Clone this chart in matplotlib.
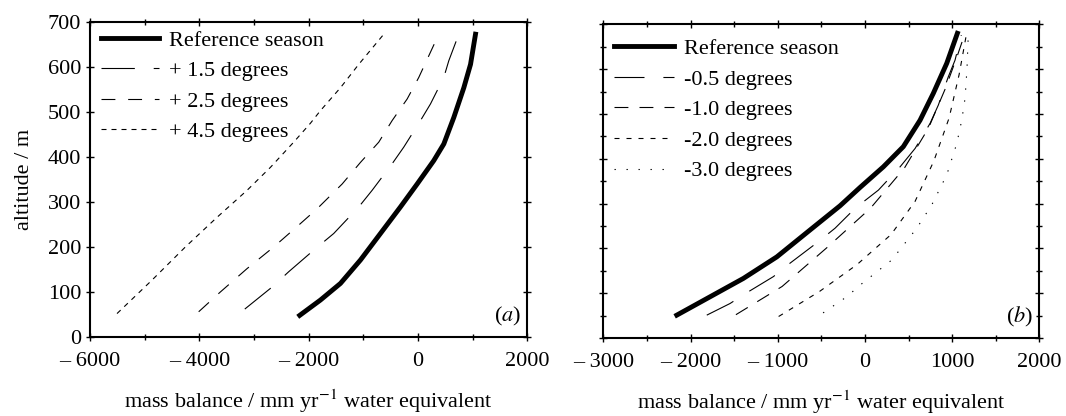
import matplotlib.pyplot as plt
from matplotlib.ticker import MultipleLocator, FixedLocator

plt.rcParams['font.family'] = ['Liberation Serif', 'DejaVu Serif']
plt.rcParams['mathtext.fontset'] = 'stix'

# panel (a): warming scenarios (mass balance, altitude)
a_ref_x = [-2165, -1786, -1419, -1053, -687, -321, -15, 289, 473, 656, 839, 962, 1053]
a_ref_y = [48, 82, 119, 171, 230, 289, 340, 392, 429, 488, 554, 606, 673]
a_15_x = [-3170, -2670, -2366, -1908, -1542, -1084, -839, -473, -260, 46, 229, 473, 564, 747]
a_15_y = [62, 111, 145, 193, 230, 289, 326, 385, 422, 481, 518, 577, 614, 673]
a_25_x = [-4014, -3617, -3128, -2641, -2152, -1846, -1388, -1053, -718, -473, -198, 15, 198, 381]
a_25_y = [56, 100, 152, 200, 252, 285, 340, 388, 433, 481, 529, 577, 625, 673]
a_45_x = [-5509, -4880, -4258, -3678, -3128, -2701, -2275, -1969, -1786, -1419, -1084, -626]
a_45_y = [52, 125, 200, 266, 326, 377, 433, 475, 503, 554, 606, 673]

# panel (b): cooling scenarios
b_ref_x = [-2158, -1776, -1394, -1011, -630, -286, -56, 211, 440, 632, 784, 938, 1060]
b_ref_y = [51, 92, 133, 181, 241, 295, 336, 382, 427, 486, 546, 613, 680]
b_05_x = [-1814, -1547, -1364, -1050, -859, -534, -343, -110, 154, 403, 575, 747, 842, 956, 1033, 1105]
b_05_y = [51, 77, 100, 137, 167, 215, 245, 290, 330, 382, 423, 479, 520, 583, 620, 676]
b_10_x = [-1480, -950, -440, 65, 455, 730, 925, 1065, 1140]
b_10_y = [52, 115, 201, 290, 380, 469, 558, 633, 676]
b_20_x = [-990, -520, -90, 300, 575, 790, 965, 1080, 1162]
b_20_y = [48, 104, 164, 231, 305, 395, 491, 588, 676]
b_30_x = [-480, -209, -50, 307, 594, 766, 938, 1053, 1110, 1148, 1170, 1185]
b_30_y = [56, 92, 119, 174, 245, 297, 364, 434, 486, 535, 600, 676]

a_labels = ['Reference season', '+ 1.5 degrees', '+ 2.5 degrees', '+ 4.5 degrees']
b_labels = ['Reference season', '-0.5 degrees', '-1.0 degrees', '-2.0 degrees', '-3.0 degrees']

fig = plt.figure(figsize=(10.66, 4.16), dpi=100)
ax1 = fig.add_axes([0.0846, 0.190, 0.410, 0.757])
ax2 = fig.add_axes([0.566, 0.1875, 0.409, 0.754])

thick = 3.5
thin = 0.8
ax1.plot(a_ref_x, a_ref_y, 'k-', lw=thick, label=a_labels[0])
ax1.plot(a_15_x, a_15_y, 'k', lw=thin, dashes=(30, 17), label=a_labels[1])
ax1.plot(a_25_x, a_25_y, 'k', lw=thin, dashes=(12.5, 11.5), label=a_labels[2])
ax1.plot(a_45_x, a_45_y, 'k', lw=thin, dashes=(4.5, 4.5), label=a_labels[3])

ax2.plot(b_ref_x, b_ref_y, 'k-', lw=thick, label=b_labels[0])
ax2.plot(b_05_x, b_05_y, 'k', lw=thin, dashes=(27, 17), label=b_labels[1])
ax2.plot(b_10_x, b_10_y, 'k', lw=thin, dashes=(12.5, 10), label=b_labels[2])
ax2.plot(b_20_x, b_20_y, 'k', lw=thin, dashes=(4.5, 6.3), label=b_labels[3])
ax2.plot(b_30_x, b_30_y, 'k', lw=thin, dashes=(1.2, 9.6), label=b_labels[4])

ax1.set_xlim(-6000, 2000)
ax1.set_ylim(0, 700)
ax1.xaxis.set_major_locator(FixedLocator([-6000, -4000, -2000, 0, 2000]))
ax1.set_xticklabels(['\u2013 6000', '\u2013 4000', '\u2013 2000', '0', '2000'])
ax1.xaxis.set_minor_locator(MultipleLocator(1000))
ax1.yaxis.set_major_locator(MultipleLocator(100))
ax1.set_ylabel('altitude / m', fontsize=16, labelpad=10)

ax2.set_xlim(-3000, 2000)
ax2.set_ylim(0, 700)
ax2.xaxis.set_major_locator(FixedLocator([-3000, -2000, -1000, 0, 1000, 2000]))
ax2.set_xticklabels(['\u2013 3000', '\u2013 2000', '\u2013 1000', '0', '1000', '2000'])
ax2.xaxis.set_minor_locator(MultipleLocator(500))
ax2.yaxis.set_major_locator(MultipleLocator(100))
ax2.yaxis.set_minor_locator(MultipleLocator(50))
ax2.set_yticklabels([])

for ax, tag in [(ax1, 'a'), (ax2, 'b')]:
    ax.set_xlabel(r'mass balance / mm yr$^{-1}$ water equivalent', fontsize=16, labelpad=12)
    ax.tick_params(which='both', direction='inout', top=True, right=True, labelsize=16)
    ax.tick_params(axis='x', which='major', pad=8)
    ax.tick_params(which='major', length=6, width=1)
    ax.tick_params(which='minor', length=4, width=1)
    for s in ax.spines.values():
        s.set_linewidth(1.5)
    ax.text(0.985, 0.03, '(' + '$\\mathit{' + tag + '}$' + ')', transform=ax.transAxes,
            ha='right', va='bottom', fontsize=16)

ax1.legend(loc='upper left', bbox_to_anchor=(0.0, 1.01), frameon=False, fontsize=16,
           handlelength=2.6, borderaxespad=0.1, labelspacing=0.45, handletextpad=0.45)
ax2.legend(loc='upper left', bbox_to_anchor=(0.0, 0.99), frameon=False, fontsize=16,
           handlelength=2.7, borderaxespad=0.1, labelspacing=0.45, handletextpad=0.45)

fig.savefig('out.png', dpi=100)
